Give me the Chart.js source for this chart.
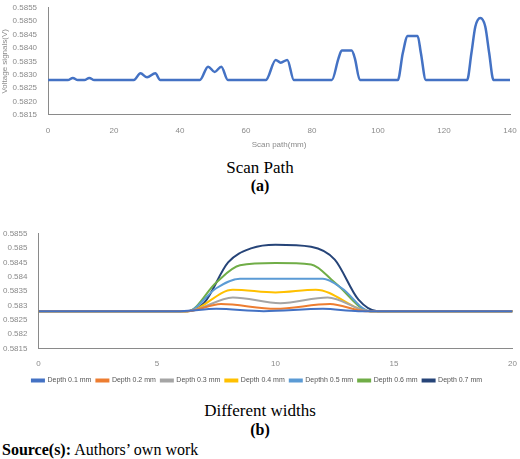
<!DOCTYPE html>
<html><head><meta charset="utf-8">
<script src="https://cdn.jsdelivr.net/npm/chart.js@4"></script>
<style>
body{margin:0;width:520px;height:459px;background:#fff;font-family:"Liberation Serif",serif;position:relative;overflow:hidden}
.c{position:absolute}
.t{position:absolute;width:520px;text-align:center;color:#000}
</style></head><body>
<div class="c" style="left:0;top:0;width:520px;height:152px"><canvas id="a"></canvas></div>
<div class="t" style="top:158px;font-size:17px">Scan Path</div>
<div class="t" style="top:177px;font-size:16px;font-weight:bold">(a)</div>
<div class="c" style="left:0;top:226px;width:520px;height:168px"><canvas id="b"></canvas></div>
<div class="t" style="top:401px;font-size:17px">Different widths</div>
<div class="t" style="top:421px;font-size:16px;font-weight:bold">(b)</div>
<div style="position:absolute;left:2px;top:441px;font-size:16px"><b>Source(s):</b> Authors’ own work</div>
<script>
const scanX=[0,6,7.5,9,11,12.5,14,26,28,30,32.5,34,46,48.5,50.5,52.5,54.5,66,69,70.5,72.5,74.5,86,88,89,92,93,94.5,106,107.5,109,112,113,114.5,127,128.3,129.5,131,132.5,133.7,135,140];
const scanY=[.5828,.5828,.58288,.5828,.5828,.58288,.5828,.5828,.58305,.5829,.58305,.5828,.5828,.5833,.5831,.5833,.5828,.5828,.58355,.58345,.58355,.5828,.5828,.5836,.5839,.5839,.5836,.5828,.5828,.5838,.58445,.58445,.5838,.5828,.5828,.5838,.5848,.58512,.5848,.5838,.5828,.5828];
const depthLabels=["Depth 0.1 mm","Depth 0.2 mm","Depth 0.3 mm","Depth 0.4 mm","Depthh 0.5 mm","Depth 0.6 mm","Depth 0.7 mm"];
const depthColors=["#4472C4","#ED7D31","#A5A5A5","#FFC000","#5B9BD5","#70AD47","#264478"];
const depthX=[
[0,6,7.5,9.5,12,13.5,20],
[0,6.3,7.7,10,12.3,13.8,20],
[0,6.3,8.2,10.2,12.2,14,20],
[0,6.3,8.2,10,11.7,14,20],
[0,6.3,7.5,8.5,10,12,12.8,14,20],
[0,6.3,7.5,8.5,10,11.5,12.5,14,20],
[0,6.2,7,8,9,10,11.5,12.5,13.5,14.3,20]];
const depthY=[
[.5828,.5828,.58288,.5828,.58288,.5828,.5828],
[.5828,.5828,.58305,.58288,.58305,.5828,.5828],
[.5828,.5828,.58328,.58308,.58328,.5828,.5828],
[.5828,.5828,.58355,.58345,.58355,.5828,.5828],
[.5828,.5828,.5836,.58393,.58393,.58393,.5836,.5828,.5828],
[.5828,.5828,.5838,.5844,.58448,.58443,.5838,.5828,.5828],
[.5828,.5828,.5831,.5845,.5850,.58512,.58505,.5846,.5832,.5828,.5828]];
const grey='#8a8a8a';
const fmt=v=>parseFloat(v.toFixed(4)).toString();
new Chart(document.getElementById('a'),{type:'line',
data:{datasets:[{data:scanX.map((x,i)=>({x,y:scanY[i]})),borderColor:'#4472C4',borderWidth:2.5,pointRadius:0,cubicInterpolationMode:'monotone'}]},
options:{responsive:true,maintainAspectRatio:false,animation:false,plugins:{legend:{display:false},tooltip:{enabled:false}},
layout:{padding:{right:10,top:2}},
scales:{x:{type:'linear',min:0,max:140,ticks:{stepSize:20,color:grey,font:{size:8}},grid:{display:false},border:{color:grey},title:{display:true,text:'Scan path(mm)',color:grey,font:{size:8},padding:2}},
y:{min:.5815,max:.5855,ticks:{stepSize:.0005,color:grey,font:{size:8},callback:v=>v.toFixed(4)},grid:{display:false},border:{color:grey},title:{display:true,text:'Voltage signals(V)',color:grey,font:{size:8},padding:0}}}}});
new Chart(document.getElementById('b'),{type:'line',
data:{datasets:depthLabels.map((l,k)=>({label:l,data:depthX[k].map((x,i)=>({x,y:depthY[k][i]})),borderColor:depthColors[k],backgroundColor:depthColors[k],borderWidth:2,pointRadius:0,cubicInterpolationMode:'monotone'}))},
options:{responsive:true,maintainAspectRatio:false,animation:false,
plugins:{tooltip:{enabled:false},legend:{position:'bottom',labels:{boxWidth:12,boxHeight:2,padding:5,color:'#555',font:{size:7}}}},
layout:{padding:{right:6}},
scales:{x:{type:'linear',min:0,max:20,ticks:{stepSize:5,color:grey,font:{size:8}},grid:{display:false},border:{color:grey}},
y:{min:.5815,max:.5855,ticks:{stepSize:.0005,color:grey,font:{size:8},callback:fmt},grid:{display:false},border:{color:grey}}}}});
</script></body></html>
